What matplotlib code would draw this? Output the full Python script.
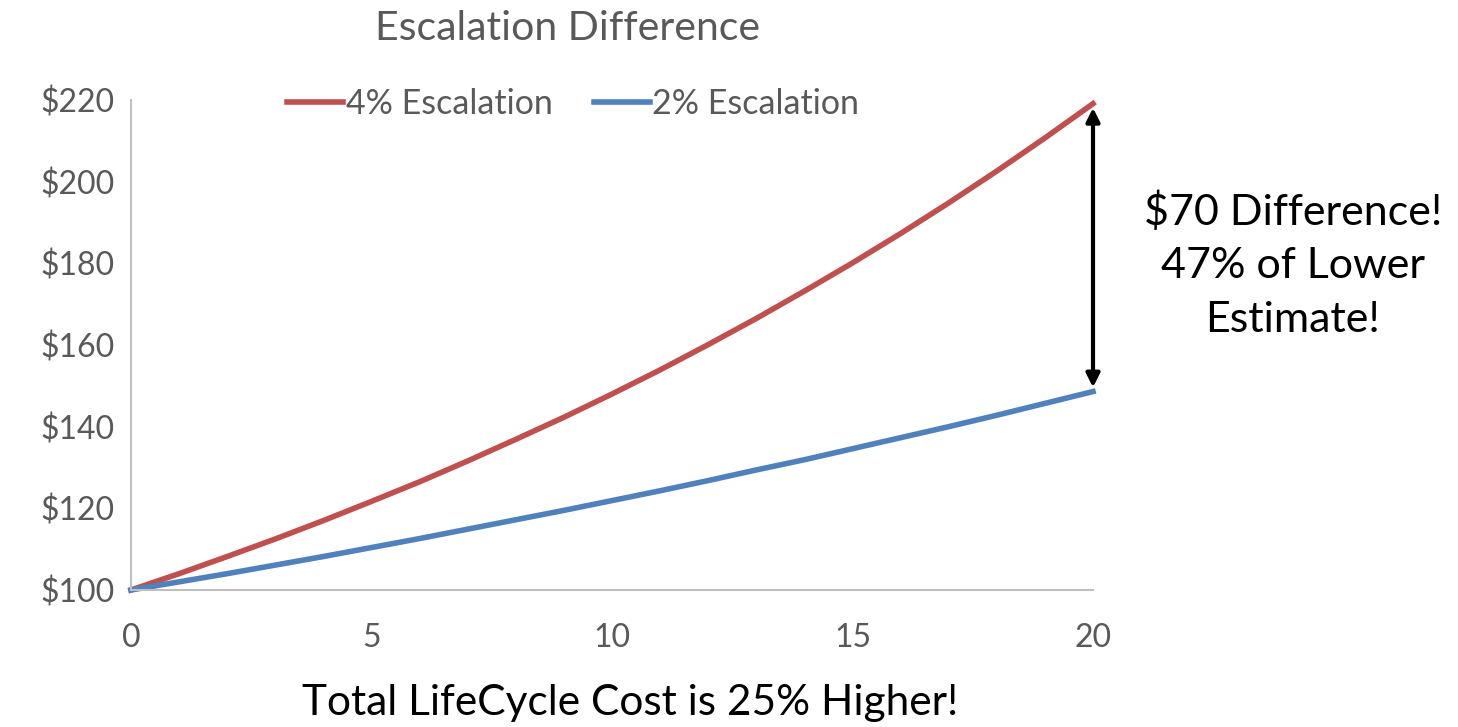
import matplotlib.pyplot as plt

plt.rcParams['font.family'] = ['Lato', 'DejaVu Sans']

# Years and cost index for the two escalation rates
years = list(range(21))
cost_4pct = [100, 104, 108.2, 112.5, 117, 121.7, 126.5, 131.6, 136.9, 142.3, 148,
             153.9, 160.1, 166.5, 173.2, 180.1, 187.3, 194.8, 202.6, 210.7, 219.1]
cost_2pct = [100, 102, 104, 106.1, 108.2, 110.4, 112.6, 114.9, 117.2, 119.5, 121.9,
             124.3, 126.8, 129.4, 131.9, 134.6, 137.3, 140, 142.8, 145.7, 148.6]
x_ticks = [0, 5, 10, 15, 20]
y_ticks = [100, 120, 140, 160, 180, 200, 220]

red = '#C0504D'
blue = '#4F81BD'
gray = '#595959'

fig = plt.figure(figsize=(14.58, 7.27), dpi=100)
ax = fig.add_axes([131 / 1458, 1 - 590 / 727, 962 / 1458, 490 / 727])

ax.plot(years, cost_4pct, color=red, lw=4, label='4% Escalation')
ax.plot(years, cost_2pct, color=blue, lw=4, label='2% Escalation')

ax.set_xlim(0, 20)
ax.set_ylim(100, 220)
ax.set_xticks(x_ticks)
ax.set_yticks(y_ticks)
ax.set_yticklabels(['$%d' % v for v in y_ticks])
ax.tick_params(length=0, labelsize=23, colors=gray)
ax.tick_params(axis='x', pad=24)
ax.tick_params(axis='y', pad=12)
for s in ['top', 'right']:
    ax.spines[s].set_visible(False)
for s in ['left', 'bottom']:
    ax.spines[s].set_color('#BFBFBF')
    ax.spines[s].set_linewidth(1.5)
for line in ax.lines:
    line.set_clip_on(False)

leg = ax.legend(loc='center left', bbox_to_anchor=(287 / 1458, 1 - 104 / 727),
                bbox_transform=fig.transFigure, ncol=2, frameon=False,
                fontsize=24.5, handlelength=1.65, handletextpad=0.08,
                columnspacing=1.2, borderpad=0, borderaxespad=0)
for t in leg.get_texts():
    t.set_color(gray)

fig.text(568 / 1458, 1 - 28 / 727, 'Escalation Difference', ha='center', va='center',
         fontsize=29.5, color=gray)

# double-headed arrow between the two end values
ax.annotate('', xy=(20, cost_4pct[-1]), xytext=(20, cost_2pct[-1]),
            arrowprops=dict(arrowstyle='<|-|>', color='black', lw=3,
                            mutation_scale=20, shrinkA=3, shrinkB=3))

fig.text(1293 / 1458, 1 - 265 / 727, '$70 Difference!\n47% of Lower\nEstimate!',
         ha='center', va='center', fontsize=31, color='black', linespacing=1.5)
fig.text(630 / 1458, 1 - 703 / 727, 'Total LifeCycle Cost is 25% Higher!',
         ha='center', va='center', fontsize=30.5, color='black')

fig.savefig('out.png', dpi=100)
